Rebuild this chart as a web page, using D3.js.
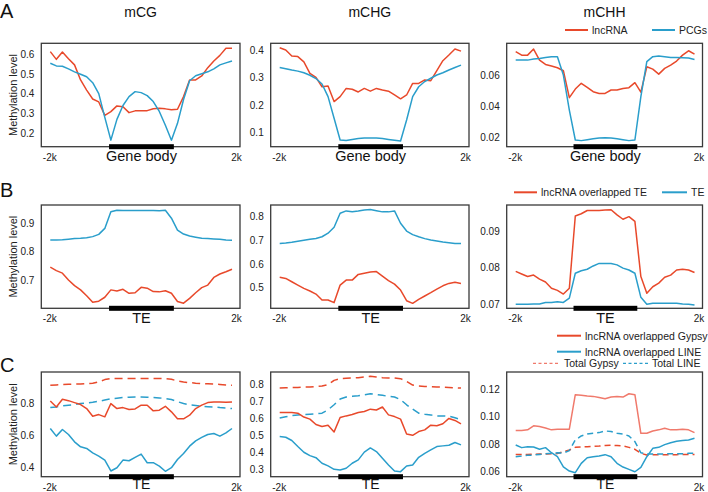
<!DOCTYPE html>
<html><head><meta charset="utf-8">
<script src="https://cdn.jsdelivr.net/npm/d3@7"></script>
<style>
html,body{margin:0;padding:0;background:#fff;}
svg{display:block;font-family:"Liberation Sans",Arial,Helvetica,sans-serif;}
</style></head>
<body><svg id="chart" width="708" height="492"></svg>
<script>
// ---------------- DATA ----------------
const columnTitles = ["mCG", "mCHG", "mCHH"];
const rowLetters = ["A", "B", "C"];
const regionLabels = ["Gene body", "TE", "TE"];
const flankLabels = ["-2k", "2k"];
const bins = d3.range(31);          // 31 bins: -2k ... body ... 2k
const bodyRegion = [9.7, 20.4];     // body span in bin units

// Row A
const A_mCG_lnc = [0.612,0.573,0.610,0.576,0.545,0.469,0.418,0.373,0.358,0.290,0.309,0.338,0.334,0.304,0.313,0.314,0.314,0.324,0.326,0.323,0.318,0.321,0.385,0.469,0.469,0.489,0.531,0.565,0.593,0.629,0.629];
const A_mCG_pcg = [0.553,0.540,0.538,0.525,0.510,0.498,0.485,0.455,0.400,0.280,0.165,0.270,0.340,0.385,0.410,0.405,0.390,0.360,0.310,0.240,0.165,0.250,0.370,0.465,0.490,0.500,0.510,0.525,0.545,0.555,0.565];
const A_mCHG_lnc = [0.408,0.400,0.378,0.376,0.357,0.315,0.300,0.266,0.269,0.212,0.230,0.260,0.257,0.247,0.260,0.250,0.260,0.254,0.250,0.236,0.222,0.236,0.278,0.278,0.291,0.288,0.325,0.361,0.382,0.404,0.396];
const A_mCHG_pcg = [0.336,0.332,0.327,0.323,0.317,0.308,0.296,0.276,0.230,0.151,0.072,0.070,0.074,0.077,0.079,0.079,0.079,0.077,0.074,0.071,0.068,0.145,0.230,0.266,0.285,0.297,0.309,0.317,0.327,0.336,0.345];
const A_mCHH_lnc = [0.0750,0.0728,0.0728,0.0767,0.0696,0.0668,0.0658,0.0647,0.0628,0.0455,0.0510,0.0547,0.0521,0.0493,0.0482,0.0482,0.0504,0.0504,0.0514,0.0519,0.0551,0.0490,0.0653,0.0638,0.0606,0.0643,0.0664,0.0690,0.0728,0.0756,0.0735];
const A_mCHH_pcg = [0.0696,0.0696,0.0696,0.0703,0.0707,0.0713,0.0718,0.0718,0.0600,0.0375,0.0183,0.0179,0.0185,0.0191,0.0196,0.0198,0.0196,0.0191,0.0185,0.0179,0.0183,0.0461,0.0686,0.0718,0.0722,0.0718,0.0713,0.0713,0.0711,0.0709,0.0700];

// Row B
const B_mCG_lncTE = [0.745,0.733,0.724,0.700,0.680,0.665,0.644,0.621,0.625,0.639,0.665,0.661,0.667,0.653,0.655,0.674,0.671,0.659,0.658,0.662,0.653,0.624,0.618,0.635,0.655,0.673,0.682,0.709,0.721,0.729,0.738];
const B_mCG_TE = [0.841,0.841,0.842,0.844,0.846,0.847,0.849,0.853,0.861,0.882,0.941,0.946,0.945,0.945,0.945,0.945,0.945,0.945,0.944,0.946,0.918,0.876,0.862,0.855,0.851,0.847,0.846,0.845,0.844,0.841,0.840];
const B_mCHG_lncTE = [0.544,0.539,0.525,0.511,0.497,0.486,0.473,0.448,0.448,0.437,0.511,0.532,0.532,0.556,0.561,0.566,0.568,0.549,0.530,0.515,0.490,0.445,0.434,0.451,0.465,0.479,0.494,0.508,0.518,0.523,0.518];
const B_mCHG_TE = [0.687,0.689,0.692,0.696,0.700,0.704,0.708,0.715,0.730,0.755,0.814,0.824,0.821,0.824,0.828,0.830,0.825,0.820,0.820,0.824,0.772,0.739,0.724,0.715,0.707,0.701,0.697,0.693,0.690,0.687,0.687];
const B_mCHH_lncTE = [0.0789,0.0782,0.0775,0.0779,0.0768,0.0760,0.0743,0.0737,0.0727,0.0743,0.0941,0.0947,0.0956,0.0956,0.0956,0.0957,0.0958,0.0944,0.0932,0.0939,0.0926,0.0775,0.0729,0.0747,0.0757,0.0773,0.0779,0.0793,0.0795,0.0793,0.0786];
const B_mCHH_TE = [0.0699,0.0699,0.0699,0.0700,0.0700,0.0704,0.0704,0.0706,0.0704,0.0716,0.0784,0.0791,0.0795,0.0804,0.0811,0.0811,0.0811,0.0807,0.0798,0.0793,0.0784,0.0718,0.0699,0.0702,0.0702,0.0702,0.0702,0.0702,0.0700,0.0699,0.0697];

// Row C
const C_mCG_lncGypsy = [0.812,0.775,0.823,0.814,0.802,0.790,0.765,0.718,0.728,0.714,0.796,0.765,0.771,0.759,0.763,0.786,0.786,0.751,0.755,0.779,0.745,0.702,0.702,0.724,0.765,0.786,0.802,0.806,0.806,0.804,0.806];
const C_mCG_lncLINE = [0.642,0.595,0.636,0.605,0.560,0.529,0.519,0.492,0.472,0.447,0.380,0.400,0.447,0.443,0.464,0.484,0.431,0.431,0.410,0.378,0.400,0.451,0.488,0.533,0.566,0.587,0.605,0.611,0.595,0.615,0.642];
const C_mCG_totGypsy = [0.909,0.911,0.913,0.915,0.917,0.917,0.919,0.921,0.929,0.944,0.950,0.950,0.950,0.950,0.950,0.950,0.950,0.950,0.950,0.950,0.946,0.935,0.929,0.925,0.922,0.920,0.918,0.916,0.914,0.911,0.909];
const C_mCG_totLINE = [0.771,0.775,0.782,0.786,0.790,0.796,0.800,0.804,0.810,0.818,0.825,0.829,0.833,0.835,0.837,0.837,0.835,0.833,0.831,0.827,0.821,0.808,0.796,0.788,0.784,0.779,0.777,0.775,0.771,0.769,0.765];
const C_mCHG_lncGypsy = [0.635,0.635,0.635,0.631,0.608,0.596,0.564,0.552,0.560,0.520,0.605,0.615,0.623,0.635,0.641,0.655,0.650,0.668,0.621,0.611,0.596,0.508,0.500,0.522,0.532,0.560,0.556,0.568,0.600,0.588,0.568];
const C_mCHG_lncLINE = [0.492,0.488,0.469,0.433,0.399,0.379,0.367,0.334,0.318,0.298,0.294,0.304,0.334,0.354,0.400,0.425,0.403,0.363,0.324,0.288,0.284,0.318,0.324,0.369,0.393,0.413,0.433,0.437,0.441,0.457,0.443];
const C_mCHG_totGypsy = [0.780,0.782,0.784,0.784,0.786,0.786,0.790,0.792,0.800,0.826,0.836,0.838,0.840,0.842,0.846,0.850,0.846,0.842,0.840,0.840,0.836,0.820,0.798,0.792,0.790,0.788,0.786,0.786,0.784,0.782,0.780];
const C_mCHG_totLINE = [0.602,0.610,0.617,0.621,0.623,0.625,0.627,0.631,0.651,0.681,0.715,0.727,0.731,0.735,0.740,0.746,0.742,0.737,0.731,0.727,0.711,0.681,0.655,0.631,0.625,0.621,0.615,0.615,0.613,0.604,0.592];
const C_mCHH_lncGypsy = [0.0899,0.0899,0.0904,0.0933,0.0928,0.0918,0.0904,0.0909,0.0909,0.0909,0.1159,0.1156,0.1149,0.1147,0.1139,0.1130,0.1142,0.1147,0.1142,0.1166,0.1159,0.0879,0.0879,0.0896,0.0904,0.0916,0.0904,0.0904,0.0909,0.0904,0.0884];
const C_mCHH_lncLINE = [0.0794,0.0775,0.0782,0.0780,0.0763,0.0775,0.0738,0.0709,0.0636,0.0605,0.0593,0.0661,0.0702,0.0709,0.0714,0.0724,0.0709,0.0661,0.0634,0.0617,0.0600,0.0632,0.0709,0.0770,0.0777,0.0797,0.0811,0.0821,0.0826,0.0831,0.0843];
const C_mCHH_totGypsy = [0.0726,0.0726,0.0726,0.0727,0.0728,0.0729,0.0730,0.0732,0.0745,0.0758,0.0777,0.0780,0.0782,0.0785,0.0787,0.0790,0.0792,0.0790,0.0787,0.0777,0.0763,0.0734,0.0721,0.0723,0.0724,0.0724,0.0724,0.0724,0.0726,0.0726,0.0726];
const C_mCHH_totLINE = [0.0709,0.0714,0.0719,0.0721,0.0726,0.0731,0.0734,0.0738,0.0736,0.0753,0.0831,0.0860,0.0874,0.0879,0.0884,0.0896,0.0892,0.0879,0.0874,0.0860,0.0819,0.0738,0.0728,0.0729,0.0729,0.0729,0.0731,0.0731,0.0731,0.0734,0.0734];

// Y axes (domain, ticks, format)
const yDomains = [
  [[0.132,0.654],[0.0474,0.4245],[0.0140,0.0804]],
  [[0.600,0.9646],[0.413,0.849],[0.0688,0.0971]],
  [[0.3446,0.9908],[0.254,0.8756],[0.0564,0.1324]]
];
const yTicks = [
  [[0.2,0.3,0.4,0.5,0.6],[0.1,0.2,0.3,0.4],[0.02,0.04,0.06]],
  [[0.7,0.8,0.9],[0.5,0.6,0.7,0.8],[0.07,0.08,0.09]],
  [[0.4,0.6,0.8],[0.3,0.4,0.5,0.6,0.7,0.8],[0.06,0.08,0.10,0.12]]
];
const yFormats = [[".1f",".1f",".2f"],[".1f",".1f",".2f"],[".1f",".1f",".2f"]];

// Legend labels
const legendA = ["lncRNA", "PCGs"];
const legendB = ["lncRNA overlapped TE", "TE"];
const legendC = ["lncRNA overlapped Gypsy", "lncRNA overlapped LINE", "Total Gypsy", "Total LINE"];

// ---------------- STYLE / LAYOUT ----------------
const RED = "#E8492B", BLUE = "#2A9ECB", PINK = "#F07A6C";
const cols = [{x:41.3,w:198.7},{x:270.7,w:198.3},{x:506.7,w:195.8}];
const rows = [{y:43.3,h:103.4,lab:14.3,fs:14.5},{y:205,h:103.3,lab:14.3,fs:14.5},{y:372,h:104.7,lab:12,fs:14}];

const dashBig = "8,5", dashMid = "6,4";
const panelSeries = [
  [
    [{v:A_mCG_lnc,c:RED},{v:A_mCG_pcg,c:BLUE}],
    [{v:A_mCHG_lnc,c:RED},{v:A_mCHG_pcg,c:BLUE}],
    [{v:A_mCHH_lnc,c:RED},{v:A_mCHH_pcg,c:BLUE}]
  ],
  [
    [{v:B_mCG_lncTE,c:RED},{v:B_mCG_TE,c:BLUE}],
    [{v:B_mCHG_lncTE,c:RED},{v:B_mCHG_TE,c:BLUE}],
    [{v:B_mCHH_lncTE,c:RED},{v:B_mCHH_TE,c:BLUE}]
  ],
  [
    [{v:C_mCG_totGypsy,c:RED,d:dashBig},{v:C_mCG_totLINE,c:BLUE,d:dashBig},{v:C_mCG_lncGypsy,c:RED},{v:C_mCG_lncLINE,c:BLUE}],
    [{v:C_mCHG_totGypsy,c:RED,d:dashBig},{v:C_mCHG_totLINE,c:BLUE,d:dashBig},{v:C_mCHG_lncGypsy,c:RED},{v:C_mCHG_lncLINE,c:BLUE}],
    [{v:C_mCHH_totGypsy,c:RED,d:dashMid},{v:C_mCHH_totLINE,c:BLUE,d:dashMid},{v:C_mCHH_lncGypsy,c:PINK},{v:C_mCHH_lncLINE,c:BLUE}]
  ]
];

const svg = d3.select("#chart");

columnTitles.forEach((t,ci)=>{
  svg.append("text").attr("x", cols[ci].x + cols[ci].w/2).attr("y", 17.3)
    .attr("text-anchor","middle").attr("font-size",14).attr("fill","#111").text(t);
});

rows.forEach((r, ri)=>{
  svg.append("text").attr("x", 0).attr("y", [17.5,197.3,371.7][ri])
    .attr("font-size", 20).attr("fill","#111").text(rowLetters[ri]);
  svg.append("text").attr("transform", `translate(17.3,${r.y + r.h/2}) rotate(-90)`)
    .attr("text-anchor","middle").attr("font-size",11).attr("fill","#222").text("Methylation level");

  cols.forEach((c, ci)=>{
    const g = svg.append("g");
    const x = d3.scaleLinear().domain([0, bins.length-1]).range([c.x+9, c.x+c.w-8]);
    const y = d3.scaleLinear().domain(yDomains[ri][ci]).range([r.y + r.h, r.y]);
    const clipId = `clip${ri}${ci}`;
    svg.append("clipPath").attr("id", clipId).append("rect")
      .attr("x", c.x).attr("y", r.y).attr("width", c.w).attr("height", r.h);

    const line = d3.line().x((d,i)=>x(bins[i])).y(d=>y(d));
    panelSeries[ri][ci].forEach(s=>{
      g.append("path").datum(s.v).attr("d", line)
        .attr("fill","none").attr("stroke", s.c).attr("stroke-width", 1.5)
        .attr("stroke-linejoin","round")
        .attr("stroke-dasharray", s.d || null)
        .attr("clip-path", `url(#${clipId})`);
    });

    g.append("rect").attr("x", c.x).attr("y", r.y).attr("width", c.w).attr("height", r.h)
      .attr("fill","none").attr("stroke","#3a3a3a").attr("stroke-width",1.3);

    const ya = g.append("g").attr("transform", `translate(${c.x},0)`)
      .call(d3.axisLeft(y).tickValues(yTicks[ri][ci]).tickFormat(d3.format(yFormats[ri][ci])).tickSize(0).tickPadding(7));
    ya.select(".domain").remove();
    ya.selectAll("text").attr("font-size",10).attr("fill","#222").attr("font-family",null);

    const xa = g.append("g").attr("transform", `translate(0,${r.y + r.h})`)
      .call(d3.axisBottom(x).tickValues([0, bins.length-1]).tickFormat((d,i)=>flankLabels[i]).tickSize(0).tickPadding(7));
    xa.select(".domain").remove();
    xa.selectAll("text").attr("font-size",10).attr("fill","#222").attr("font-family",null)
      .attr("dx",(d,i)=> i===0 ? -1 : 4);

    g.append("rect").attr("x", x(bodyRegion[0])).attr("y", r.y + r.h - 2.5)
      .attr("width", x(bodyRegion[1]) - x(bodyRegion[0])).attr("height", 5).attr("fill","#000");
    g.append("text").attr("x", (x(bodyRegion[0]) + x(bodyRegion[1]))/2).attr("y", r.y + r.h + r.lab)
      .attr("text-anchor","middle").attr("font-size",r.fs).attr("fill","#111").text(regionLabels[ri]);
  });
});

function legendItem(x1, x2, y, color, dash, label, sw){
  svg.append("line").attr("x1",x1).attr("x2",x2).attr("y1",y).attr("y2",y)
    .attr("stroke",color).attr("stroke-width",sw||2).attr("stroke-dasharray",dash||null);
  svg.append("text").attr("x", x2 + 4).attr("y", y + 3.8).attr("font-size",10.5).attr("fill","#222").text(label);
}
legendItem(565, 588, 30, RED, null, legendA[0]);
legendItem(652, 675, 30, BLUE, null, legendA[1]);
legendItem(514, 537, 192.3, RED, null, legendB[0]);
legendItem(662, 687, 192.3, BLUE, null, legendB[1]);
legendItem(557, 581, 335.7, RED, null, legendC[0]);
legendItem(557, 581, 351.7, BLUE, null, legendC[1]);
legendItem(533, 560, 363.3, PINK, "3,2.5", legendC[2], 1.3);
legendItem(623, 648, 363.3, BLUE, "3,2.5", legendC[3], 1.3);
</script></body></html>
